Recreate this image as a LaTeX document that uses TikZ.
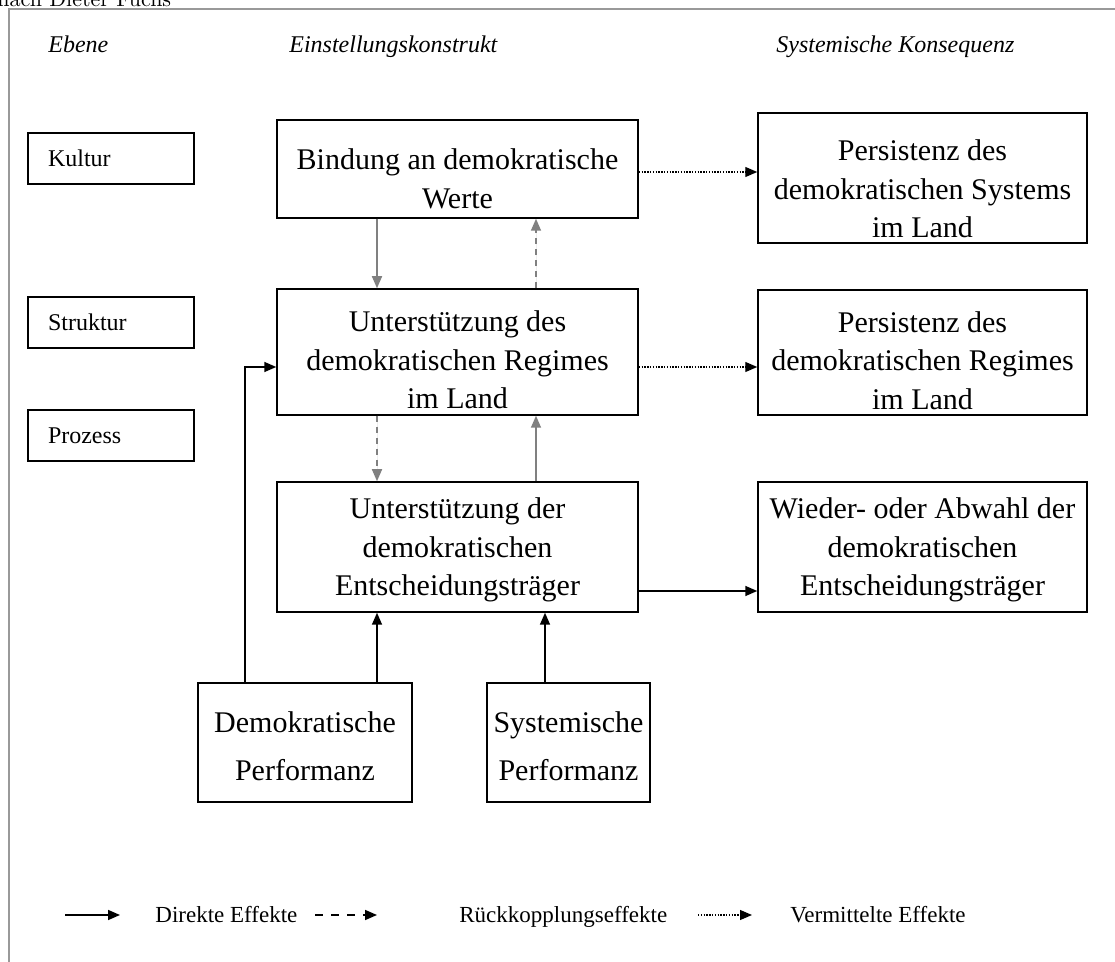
\documentclass[tikz,border=0pt]{standalone}
\usepackage{fontspec}
\setmainfont{Liberation Serif}
\newfontfamily\lmfont{Latin Modern Roman}
\usetikzlibrary{arrows.meta}

\tikzset{
  box/.style={draw, line width=0.75pt, inner sep=0pt},
  boxtext/.style={align=center, inner sep=0pt, font=\fontsize{15}{19.2}\selectfont},
  perftext/.style={align=center, inner sep=0pt, font=\fontsize{15}{24}\selectfont},
  levelbox/.style={draw, line width=0.75pt, align=left, inner xsep=10pt,
    text width=63pt, minimum height=25.5pt, font=\fontsize{12}{14}\selectfont},
  head/.style={anchor=base west, inner sep=0pt, font=\fontsize{12}{14}\selectfont\itshape},
  legtext/.style={anchor=base west, inner sep=0pt, font=\fontsize{11.5}{13}\selectfont},
  tip/.style={-{Triangle[length=6pt,width=5pt]}},
  direct/.style={tip, line width=0.8pt},
  feedback/.style={tip, line width=0.8pt, dash pattern=on 3pt off 2.5pt},
  mediated/.style={tip, line width=0.6pt, dash pattern=on 0.7pt off 0.7pt},
  grey/.style={draw=black!50, fill=black!50}
}

\begin{document}
\begin{tikzpicture}[x=0.5pt, y=-0.5pt]
\useasboundingbox (0,0) rectangle (1115,962);
\node[anchor=base west, inner sep=0pt, font=\lmfont\fontsize{11}{13}\selectfont] (title) at (-3,6.5) {nach Dieter Fuchs};
\draw[black!40, line width=1pt] (1115,9) -- (9,9) -- (9,962);

% column heads
\node[head] (hebene) at (48,53) {Ebene};
\node[head] (hkonstrukt) at (289,53) {Einstellungskonstrukt};
\node[head] (hfolge) at (776,53) {Systemische Konsequenz};

% levels
\node[levelbox] (kultur) at (111,158.5) {Kultur};
\node[levelbox] (struktur) at (111,322.5) {Struktur};
\node[levelbox] (prozess) at (111,435.5) {Prozess};

% attitudes
\node[box, minimum width=180.5pt, minimum height=49pt] (werte) at (457.5,169) {};
\node[boxtext] at ([yshift=-5pt]werte.center) {Bindung an demokratische\\Werte};
\node[box, minimum width=180.5pt, minimum height=63pt] (regime) at (457.5,352) {};
\node[boxtext] at ([yshift=-4pt]regime.center) {Unterstützung des\\demokratischen Regimes\\im Land};
\node[box, minimum width=180.5pt, minimum height=65pt] (entsch) at (457.5,547) {};
\node[boxtext] at ([yshift=-1.5pt]entsch.center) {Unterstützung der\\demokratischen\\Entscheidungsträger};

% consequences
\node[box, minimum width=164.5pt, minimum height=65pt] (psystem) at (922.5,178) {};
\node[boxtext] at ([yshift=-5.5pt]psystem.center) {Persistenz des\\demokratischen Systems\\im Land};
\node[box, minimum width=164.5pt, minimum height=62.5pt] (pregime) at (922.5,352.5) {};
\node[boxtext] at ([yshift=-4pt]pregime.center) {Persistenz des\\demokratischen Regimes\\im Land};
\node[box, minimum width=164.5pt, minimum height=65pt] (abwahl) at (922.5,547) {};
\node[boxtext] at ([yshift=-1.5pt]abwahl.center) {Wieder- oder Abwahl der\\demokratischen\\Entscheidungsträger};

% performance
\node[box, minimum width=107pt, minimum height=59.5pt] (demperf) at (305,742.5) {};
\node[perftext] at ([yshift=-2pt]demperf.center) {Demokratische\\Performanz};
\node[box, minimum width=81.5pt, minimum height=59.5pt] (sysperf) at (568.5,742.5) {};
\node[perftext] at ([yshift=-2pt]sysperf.center) {Systemische\\Performanz};

\coordinate (xl) at (377,0);
\coordinate (xr) at (536,0);
\coordinate (xd) at (245,0);
\coordinate (xs) at (545,0);

% arrows between attitudes
\draw[direct, grey] (werte.south -| xl) -- (regime.north -| xl);
\draw[feedback, grey] (regime.north -| xr) -- (werte.south -| xr);
\draw[feedback, grey] (regime.south -| xl) -- (entsch.north -| xl);
\draw[direct, grey] (entsch.north -| xr) -- (regime.south -| xr);

% arrows to consequences
\draw[mediated] (werte.east |- 0,172) -- (psystem.west |- 0,172);
\draw[mediated] (regime.east |- 0,367) -- (pregime.west |- 0,367);
\draw[direct] (entsch.east |- 0,591) -- (abwahl.west |- 0,591);

% performance arrows
\draw[direct] (demperf.north -| xl) -- (entsch.south -| xl);
\draw[direct] (sysperf.north -| xs) -- (entsch.south -| xs);
\draw[direct] (demperf.north -| xd) -- (xd |- 0,367) -- (regime.west |- 0,367);

% legend
\coordinate (la1) at (65,915);  \coordinate (la2) at (120,915);
\coordinate (lb1) at (315,915); \coordinate (lb2) at (377,915);
\coordinate (lc1) at (698,915); \coordinate (lc2) at (752,915);
\draw[direct] (la1) -- (la2);
\draw[feedback, dash pattern=on 4pt off 4pt] (lb1) -- (lb2);
\draw[mediated] (lc1) -- (lc2);
\node[legtext] (ldirekt) at (155,922) {Direkte Effekte};
\node[legtext] (lrueck) at (459,922) {Rückkopplungseffekte};
\node[legtext] (lverm) at (790,922) {Vermittelte Effekte};
\end{tikzpicture}
\end{document}
